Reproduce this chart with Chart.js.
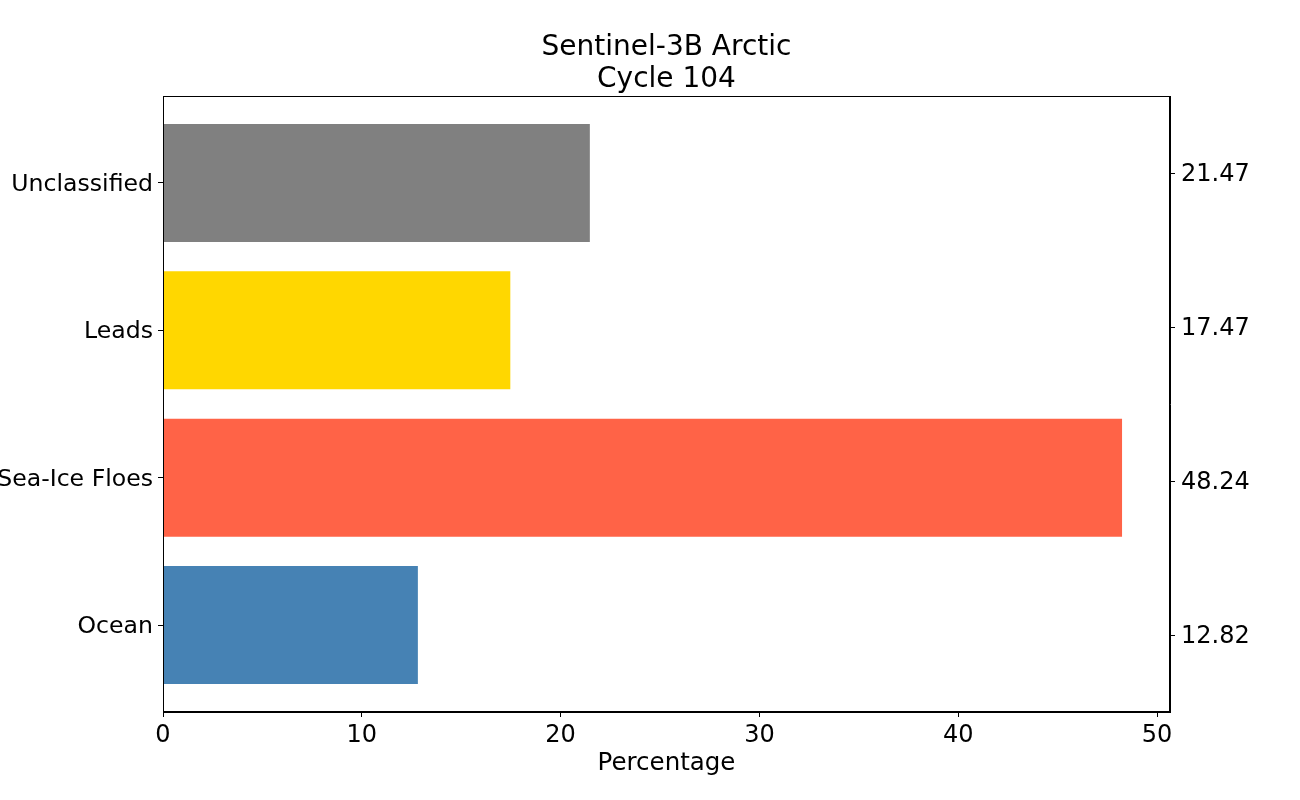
<!DOCTYPE html>
<html lang="en">
<head>
  <meta charset="UTF-8">
  <title>Sentinel-3B Arctic Cycle 104</title>
  <script src="https://cdn.jsdelivr.net/npm/chart.js"></script>
  <style>
    html, body { margin: 0; padding: 0; background: #fff; }
    canvas { display: block; }
  </style>
</head>
<body>
  <canvas id="grafico" width="1300" height="800"></canvas>

  <script>
    // classes from bottom to top
    const categorie = ['Ocean', 'Sea-Ice Floes', 'Leads', 'Unclassified'];
    const percentuali = [12.82, 48.24, 17.47, 21.47];
    const colori = ['#4682B4', '#FF6347', '#FFD700', '#808080'];
    const xTicks = [0, 10, 20, 30, 40, 50];

    const font = 'DejaVu Sans';

    // box around the plot area, like matplotlib
    const cornice = {
      id: 'cornice',
      afterDraw(chart) {
        const a = chart.chartArea;
        const c = chart.ctx;
        c.save();
        c.strokeStyle = '#000';
        c.lineWidth = 1;
        c.strokeRect(Math.round(a.left) + 0.5, Math.round(a.top) + 0.5,
          Math.round(a.right - a.left) - 1, Math.round(a.bottom - a.top) - 1);
        c.restore();
      }
    };

    const ctx = document.getElementById('grafico').getContext('2d');
    const chart = new Chart(ctx, {
      type: 'bar',
      data: {
        datasets: [{
          data: percentuali.map((v, i) => ({ x: v, y: i })),
          backgroundColor: colori,
          borderWidth: 0,
          categoryPercentage: 1,
          barPercentage: 0.8
        }]
      },
      options: {
        indexAxis: 'y',
        responsive: false,
        animation: false,
        devicePixelRatio: 1,
        layout: { padding: 0 },
        plugins: {
          legend: { display: false },
          tooltip: { enabled: false },
          title: {
            display: true,
            fullSize: false,
            text: ['Sentinel-3B Arctic', 'Cycle 104'],
            color: '#000',
            font: { family: font, size: 28, weight: 'normal', lineHeight: '32px' },
            padding: { top: 32, bottom: 0 }
          }
        },
        scales: {
          x: {
            type: 'linear',
            position: 'bottom',
            min: 0,
            max: 48.24 * 1.05,
            offset: false,
            afterBuildTicks: s => { s.ticks = xTicks.map(v => ({ value: v })); },
            afterFit: s => { s.height = 88; },
            grid: { offset: false, drawOnChartArea: false, drawTicks: true, tickLength: 5, color: '#000' },
            border: { display: true, color: '#000', width: 1 },
            ticks: { color: '#000', font: { family: font, size: 24 }, padding: 4, autoSkip: false, maxRotation: 0 },
            title: { display: true, text: 'Percentage', color: '#000', font: { family: font, size: 24.5 }, padding: { top: 0, bottom: 22 } }
          },
          y: {
            type: 'linear',
            position: 'left',
            min: -0.59,
            max: 3.59,
            offset: false,
            afterBuildTicks: s => { s.ticks = categorie.map((c, i) => ({ value: i })); },
            afterFit: s => { s.width = 163; },
            grid: { offset: false, drawOnChartArea: false, drawTicks: true, tickLength: 5, color: '#000' },
            border: { display: true, color: '#000', width: 1 },
            ticks: {
              color: '#000', font: { family: font, size: 23.6 }, padding: 5, autoSkip: false, labelOffset: 2,
              callback: v => categorie[v]
            }
          },
          y2: {
            type: 'linear',
            position: 'right',
            min: -0.5,
            max: 3.5,
            offset: false,
            afterBuildTicks: s => { s.ticks = percentuali.map((p, i) => ({ value: i })); },
            afterFit: s => { s.width = 130; },
            grid: { offset: false, drawOnChartArea: false, drawTicks: true, tickLength: 5, color: '#000' },
            border: { display: true, color: '#000', width: 1 },
            ticks: {
              color: '#000', font: { family: font, size: 24 }, padding: 6, autoSkip: false, labelOffset: 2,
              callback: v => percentuali[v].toFixed(2)
            }
          }
        }
      },
      plugins: [cornice]
    });
  </script>
</body>
</html>
